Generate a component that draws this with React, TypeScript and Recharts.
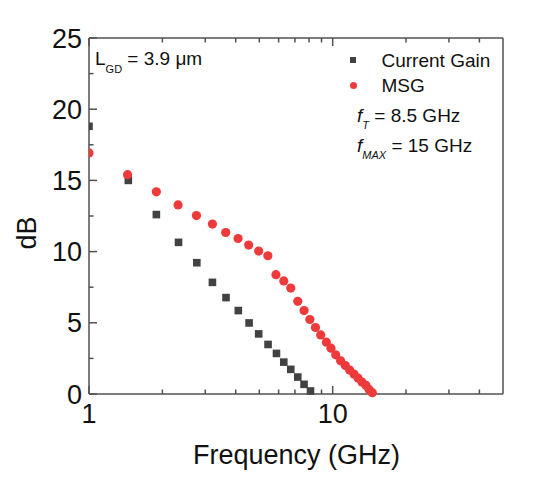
import React from 'react';
import { ScatterChart, Scatter, XAxis, YAxis, Legend } from 'recharts';

// frequency (GHz) / gain (dB)
const cgFreq = [1.0, 1.45, 1.89, 2.33, 2.77, 3.21, 3.65, 4.10, 4.54, 4.97, 5.43, 5.88, 6.30, 6.73, 7.19, 7.63, 8.11];
const cgGain = [18.8, 15.0, 12.6, 10.65, 9.22, 7.84, 6.77, 5.86, 4.99, 4.22, 3.48, 2.85, 2.24, 1.73, 1.19, 0.68, 0.21];

const msgFreq = [1.0, 1.44, 1.89, 2.32, 2.76, 3.21, 3.64, 4.09, 4.52, 4.97, 5.42, 5.85, 6.30, 6.73, 7.19, 7.63,
  8.06, 8.5, 8.93, 9.42, 9.84, 10.29, 10.78, 11.27, 11.74, 12.23, 12.7, 13.19, 13.69, 14.08, 14.54];
const msgGain = [16.93, 15.4, 14.2, 13.28, 12.53, 11.93, 11.34, 10.92, 10.46, 10.04, 9.71, 8.38, 7.94, 7.44, 6.51, 5.86,
  5.23, 4.67, 4.15, 3.64, 3.22, 2.75, 2.33, 2.0, 1.68, 1.4, 1.12, 0.84, 0.61, 0.33, 0.09];

const xTicks = [1, 2, 3, 4, 5, 6, 7, 8, 9, 10, 20, 30, 40];
const xLabels = [1, 10];
const yTicks = [0, 2.5, 5, 7.5, 10, 12.5, 15, 17.5, 20, 22.5, 25];
const yLabels = [0, 5, 10, 15, 20, 25];

const FONT = '"Liberation Sans", Arial, sans-serif';
const AXIS = '#505050';
const GRAY = '#424242';
const RED = '#ee3a3a';
const MAJOR = 8;
const MINOR = 4.5;

const cgData = cgFreq.map((f, i) => ({ f, v: cgGain[i] }));
const msgData = msgFreq.map((f, i) => ({ f, v: msgGain[i] }));

// ticks point into the plot on every side
const BottomTick = ({ x, y, payload }: any) => {
  const major = xLabels.includes(payload.value);
  return (
    <g>
      <line x1={x} x2={x} y1={y} y2={y - (major ? MAJOR : MINOR)} stroke={AXIS} strokeWidth={1.5} />
      {major && (
        <text x={x} y={y + 29} textAnchor="middle" fontSize={27} fontFamily={FONT} fill="#111">
          {payload.value}
        </text>
      )}
    </g>
  );
};

const TopTick = ({ x, y, payload }: any) => {
  const major = xLabels.includes(payload.value);
  return <line x1={x} x2={x} y1={y} y2={y + (major ? MAJOR : MINOR)} stroke={AXIS} strokeWidth={1.5} />;
};

const LeftTick = ({ x, y, payload }: any) => {
  const major = yLabels.includes(payload.value);
  return (
    <g>
      <line x1={x} x2={x + (major ? MAJOR : MINOR)} y1={y} y2={y} stroke={AXIS} strokeWidth={1.5} />
      {major && (
        <text x={x - 7} y={y + 9.5} textAnchor="end" fontSize={27} fontFamily={FONT} fill="#111">
          {payload.value}
        </text>
      )}
    </g>
  );
};

const RightTick = ({ x, y, payload }: any) => {
  const major = yLabels.includes(payload.value);
  return <line x1={x} x2={x - (major ? MAJOR : MINOR)} y1={y} y2={y} stroke={AXIS} strokeWidth={1.5} />;
};

const squareShape = (p: any) => <rect x={p.cx - 3.8} y={p.cy - 3.8} width={7.6} height={7.6} fill={GRAY} />;
const circleShape = (p: any) => <circle cx={p.cx} cy={p.cy} r={4.6} fill={RED} />;

const renderLegend = ({ payload }: any) => (
  <div style={{ fontFamily: FONT, fontSize: 19, color: '#111' }}>
    {(payload || []).map((e: any) => (
      <div key={e.value} style={{ display: 'flex', alignItems: 'center', height: 25, lineHeight: '25px' }}>
        <span style={{ width: 20, display: 'flex', justifyContent: 'center' }}>
          {e.type === 'square'
            ? <span style={{ width: 6, height: 6, background: e.color }} />
            : <span style={{ width: 7, height: 7, borderRadius: '50%', background: e.color }} />}
        </span>
        <span style={{ marginLeft: 18.5, whiteSpace: 'nowrap' }}>{e.value}</span>
      </div>
    ))}
  </div>
);

export default function App() {
  return (
    <div style={{ position: 'absolute', left: 0, top: 0, width: 539, height: 480, background: '#fff', fontFamily: FONT }}>
      <ScatterChart width={539} height={480} margin={{ top: 37, right: 35, bottom: 85, left: 88 }}>
        <XAxis dataKey="f" type="number" scale="log" domain={[1, 50]} allowDataOverflow ticks={xTicks}
          interval={0} height={1} tickSize={0} tickMargin={0} tick={<BottomTick />}
          axisLine={{ stroke: AXIS, strokeWidth: 1.5 }} />
        <XAxis xAxisId="top" orientation="top" dataKey="f" type="number" scale="log" domain={[1, 50]} allowDataOverflow
          ticks={xTicks} interval={0} height={1} tickSize={0} tickMargin={0} tick={<TopTick />}
          axisLine={{ stroke: AXIS, strokeWidth: 1.5 }} />
        <YAxis dataKey="v" type="number" domain={[0, 25]} ticks={yTicks} interval={0} width={1}
          tickSize={0} tickMargin={0} tick={<LeftTick />} axisLine={{ stroke: AXIS, strokeWidth: 1.5 }} />
        <YAxis yAxisId="right" orientation="right" dataKey="v" type="number" domain={[0, 25]} ticks={yTicks}
          interval={0} width={1} tickSize={0} tickMargin={0} tick={<RightTick />}
          axisLine={{ stroke: AXIS, strokeWidth: 1.5 }} />
        <Legend layout="vertical" align="center" verticalAlign="middle" content={renderLegend}
          wrapperStyle={{ top: 47.6, left: 343, width: 170 }} />
        <Scatter name="Current Gain" data={cgData} fill={GRAY} legendType="square" shape={squareShape}
          isAnimationActive={false} />
        <Scatter name="MSG" data={msgData} fill={RED} legendType="circle" shape={circleShape}
          isAnimationActive={false} />
      </ScatterChart>

      <svg width={539} height={480} style={{ position: 'absolute', left: 0, top: 0, pointerEvents: 'none' }}
        fontFamily={FONT} fill="#111">
        <text x={95} y={64.7} fontSize={19}>
          L<tspan fontSize={11} dy={7.8}>GD</tspan><tspan dy={-7.8}> = 3.9 μm</tspan>
        </text>
        <text x={357} y={121.8} fontSize={19}>
          <tspan fontStyle="italic">f</tspan>
          <tspan fontSize={11} fontStyle="italic" dy={7}>T</tspan>
          <tspan dy={-7}> = 8.5 GHz</tspan>
        </text>
        <text x={357} y={151.5} fontSize={19}>
          <tspan fontStyle="italic">f</tspan>
          <tspan fontSize={11} fontStyle="italic" dy={7}>MAX</tspan>
          <tspan dy={-7}> = 15 GHz</tspan>
        </text>
        <text x={296.5} y={464} fontSize={27} textAnchor="middle">Frequency (GHz)</text>
        <text x={36} y={233} fontSize={27} textAnchor="middle" transform="rotate(-90 36 233)">dB</text>
      </svg>
    </div>
  );
}
